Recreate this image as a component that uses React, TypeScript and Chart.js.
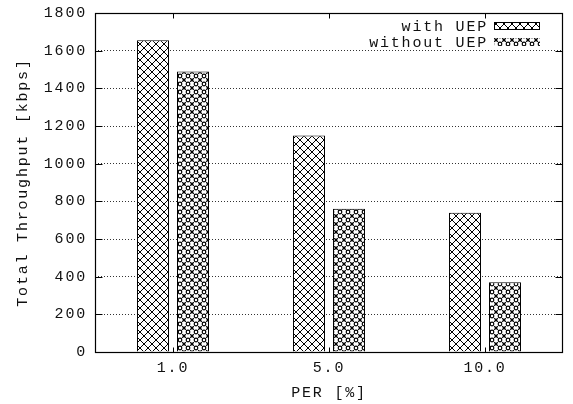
import { useEffect, useRef } from 'react';
import { Chart, registerables } from 'chart.js';

Chart.register(...registerables);

const categories = ['1.0', '5.0', '10.0'];
const withUEP = [1655, 1150, 740];
const withoutUEP = [1490, 760, 370];
const seriesLabels = ['with UEP', 'without UEP'];
const yMin = 0;
const yMax = 1800;
const yStep = 200;
const xTitle = 'PER [%]';
const yTitle = 'Total Throughput [kbps]';

const FONT_FAMILY = "'Liberation Mono', 'DejaVu Sans Mono', monospace";
const FONT_SIZE = 15;
const LETTER_SPACING = '1.8px';
const TEXT_COLOR = '#111';

function makePattern(ctx: CanvasRenderingContext2D, kind: number): CanvasPattern | string {
  const c = document.createElement('canvas');
  c.width = 8;
  c.height = 8;
  const g = c.getContext('2d');
  if (!g) return '#fff';
  g.fillStyle = '#fff';
  g.fillRect(0, 0, 8, 8);
  g.strokeStyle = '#000';
  if (kind === 0) {
    g.lineWidth = 1;
    g.beginPath();
    for (const dx of [-8, 0, 8]) {
      g.moveTo(dx - 1, -1);
      g.lineTo(dx + 9, 9);
      g.moveTo(dx + 9, -1);
      g.lineTo(dx - 1, 9);
    }
    g.stroke();
  } else {
    g.lineWidth = 1.2;
    g.beginPath();
    g.arc(4, 4, 1.8, 0, Math.PI * 2);
    g.stroke();
    g.lineWidth = 1.3;
    g.beginPath();
    for (const [cx, cy] of [[0, 0], [8, 0], [0, 8], [8, 8]]) {
      g.moveTo(cx - 1.8, cy - 1.8);
      g.lineTo(cx + 1.8, cy + 1.8);
      g.moveTo(cx + 1.8, cy - 1.8);
      g.lineTo(cx - 1.8, cy + 1.8);
    }
    g.stroke();
  }
  const p = ctx.createPattern(c, 'repeat');
  return p || '#fff';
}

export default function App() {
  const ref = useRef<HTMLCanvasElement | null>(null);

  useEffect(() => {
    const canvas = ref.current;
    if (!canvas) return;
    const ctx = canvas.getContext('2d');
    if (!ctx) return;
    const pWith = makePattern(ctx, 0);
    const pWithout = makePattern(ctx, 1);
    const font = { family: FONT_FAMILY, size: FONT_SIZE };

    const framePlugin = {
      id: 'framePlugin',
      beforeUpdate(chart: any) {
        chart.ctx.letterSpacing = LETTER_SPACING;
      },
      beforeDraw(chart: any) {
        chart.ctx.letterSpacing = LETTER_SPACING;
      },
      afterDatasetsDraw(chart: any) {
        const c = chart.ctx as CanvasRenderingContext2D;
        const a = chart.chartArea;
        const sx = chart.scales.x;
        const sy = chart.scales.y;
        c.save();
        c.setLineDash([]);
        c.strokeStyle = '#000';
        c.lineWidth = 1;
        const L = Math.round(a.left) + 0.5;
        const R = Math.round(a.right) - 0.5;
        const T = Math.round(a.top) + 0.5;
        const B = Math.round(a.bottom) + 0.5;
        c.beginPath();
        for (let v = yMin; v <= yMax; v += yStep) {
          const py = Math.round(sy.getPixelForValue(v)) + 0.5;
          c.moveTo(L, py);
          c.lineTo(L + 7, py);
          c.moveTo(R, py);
          c.lineTo(R - 7, py);
        }
        for (let i = 0; i < categories.length; i++) {
          const px = Math.round(sx.getPixelForValue(i)) + 0.5;
          c.moveTo(px, B);
          c.lineTo(px, B - 5);
          c.moveTo(px, T);
          c.lineTo(px, T + 5);
        }
        c.stroke();
        c.lineWidth = 1.2;
        c.strokeRect(L, T, R - L, B - T);
        c.restore();
      },
      afterDraw(chart: any) {
        const c = chart.ctx as CanvasRenderingContext2D;
        const a = chart.chartArea;
        c.save();
        c.letterSpacing = LETTER_SPACING;
        c.font = `${FONT_SIZE}px ${FONT_FAMILY}`;
        c.fillStyle = TEXT_COLOR;
        c.textAlign = 'right';
        c.textBaseline = 'middle';
        const boxR = a.right - 23;
        const boxW = 46;
        const boxH = 8;
        const textR = boxR - boxW - 6;
        const rows = [a.top + 13, a.top + 29];
        const fills = [pWith, pWithout];
        seriesLabels.forEach((lab, i) => {
          c.fillText(lab, textR, rows[i] + 1);
          c.fillStyle = fills[i] as any;
          c.fillRect(boxR - boxW, rows[i] - boxH / 2, boxW, boxH);
          if (i === 0) {
            c.strokeStyle = '#000';
            c.lineWidth = 1;
            c.strokeRect(boxR - boxW + 0.5, rows[i] - boxH / 2 + 0.5, boxW - 1, boxH - 1);
          }
          c.fillStyle = TEXT_COLOR;
        });
        c.restore();
      },
    };

    const chart = new Chart(canvas, {
      type: 'bar',
      data: {
        labels: categories,
        datasets: [
          {
            label: seriesLabels[0],
            data: withUEP,
            backgroundColor: pWith as any,
            borderColor: '#000',
            borderWidth: 1,
            categoryPercentage: 0.513,
            barPercentage: 0.8,
          },
          {
            label: seriesLabels[1],
            data: withoutUEP,
            backgroundColor: pWithout as any,
            borderColor: '#000',
            borderWidth: 1,
            categoryPercentage: 0.513,
            barPercentage: 0.8,
          },
        ],
      },
      options: {
        animation: false,
        responsive: false,
        devicePixelRatio: 1,
        layout: { padding: { left: 0, right: 10, top: 13, bottom: 0 } },
        plugins: {
          legend: { display: false },
          tooltip: { enabled: false },
        },
        scales: {
          x: {
            type: 'category',
            offset: true,
            grid: { display: false, drawTicks: false },
            border: { display: false },
            ticks: { font, color: TEXT_COLOR, padding: 7, maxRotation: 0 },
            title: {
              display: true,
              text: xTitle,
              font,
              color: TEXT_COLOR,
              padding: { top: 0, bottom: 2 },
            },
            afterFit(s: any) {
              s.height = 52;
              s.paddingLeft = 0;
              s.paddingRight = 0;
            },
          },
          y: {
            min: yMin,
            max: yMax,
            ticks: {
              stepSize: yStep,
              font,
              color: TEXT_COLOR,
              padding: 8,
              callback: (v: any) => String(v),
            },
            grid: { color: '#333', lineWidth: 1, drawTicks: false },
            border: { display: false, dash: [1, 2] },
            title: {
              display: true,
              text: yTitle,
              font,
              color: TEXT_COLOR,
              padding: { top: 14, bottom: 0 },
            },
            afterFit(s: any) {
              s.width = 95;
              s.paddingTop = 0;
              s.paddingBottom = 0;
            },
          },
        },
      },
      plugins: [framePlugin],
    });

    return () => chart.destroy();
  }, []);

  return (
    <div style={{ position: 'absolute', left: 0, top: 0, width: 573, height: 404, background: '#fff' }}>
      <canvas ref={ref} width={573} height={404} style={{ display: 'block' }} />
    </div>
  );
}
